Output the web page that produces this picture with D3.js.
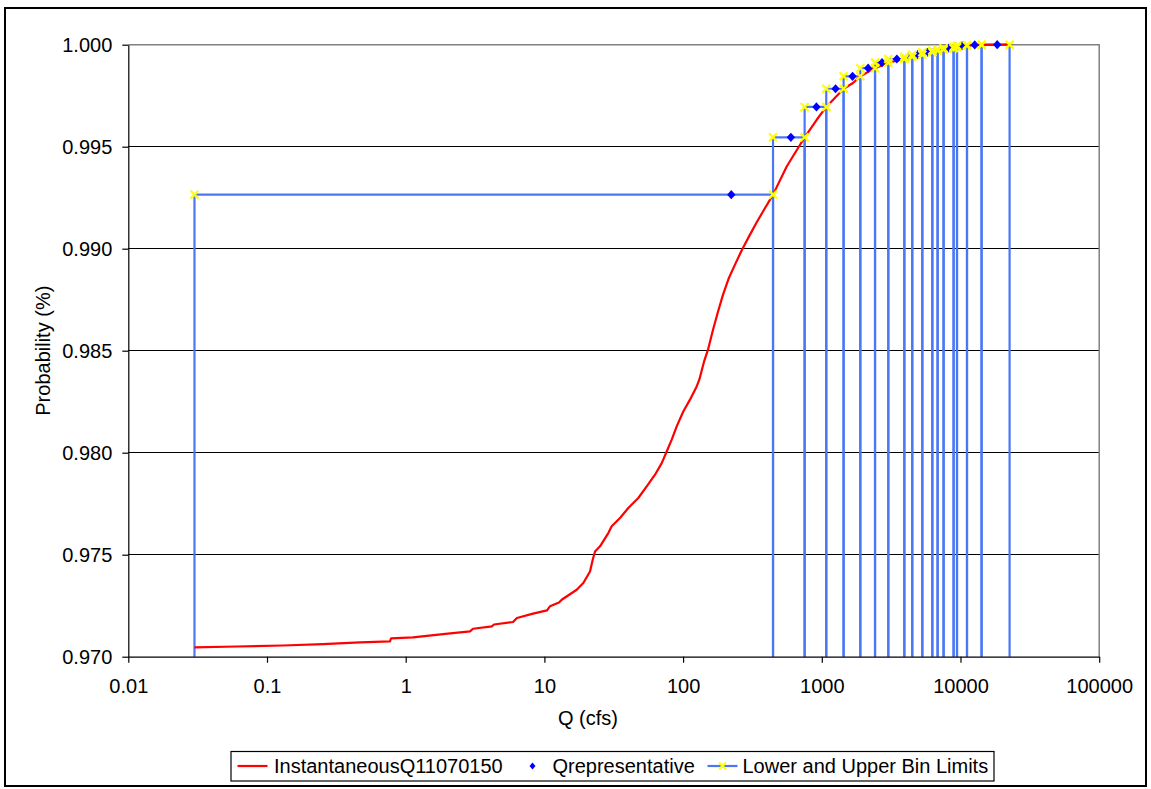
<!DOCTYPE html>
<html>
<head>
<meta charset="utf-8">
<script src="https://cdn.jsdelivr.net/npm/d3@7"></script>
<style>
  html, body { margin: 0; padding: 0; background: #fff; }
  svg text { font-family: "Liberation Sans", Arial, sans-serif; fill: #000; }
</style>
</head>
<body>
<svg id="chart" width="1151" height="789"></svg>
<script>
// Cumulative probability of instantaneous discharge (Q, cfs)
const curveQ = [0.03, 0.0605, 0.1304, 0.2533, 0.468, 0.770, 0.785, 1.129, 1.858, 2.908, 3.055, 4.19, 4.33,
  5.94, 6.34, 8.28, 10.44, 10.97, 12.74, 13.33, 17.10, 19.08, 21.33, 22.30, 23.17, 25.18, 28.89, 30.56,
  35.09, 40.26, 47.54, 54.66, 62.72, 70.12, 76.16, 82.77, 89.93, 100.3, 112.1, 125.3, 130.9, 141.5, 151.2,
  164.3, 178.5, 194.0, 214.2, 236.7, 265.9, 303.6, 341.0, 383.1, 445, 558.4, 684.6, 752, 918.8, 1077,
  1436, 1679, 1895, 2420, 3016, 3936, 4490, 5306, 6266, 6838, 7553, 8918, 9438, 11140, 14190, 22590];
const curveP = [0.97046, 0.97050, 0.97055, 0.97062, 0.97070, 0.97075, 0.97090, 0.97095, 0.97111, 0.97124,
  0.97137, 0.97149, 0.97158, 0.97170, 0.97190, 0.97211, 0.97227, 0.97247, 0.97266, 0.97279, 0.97328,
  0.97361, 0.97418, 0.97475, 0.97516, 0.97541, 0.97606, 0.97639, 0.97680, 0.97729, 0.97778, 0.97835,
  0.97892, 0.97949, 0.98006, 0.98064, 0.98129, 0.98202, 0.98260, 0.98325, 0.98358, 0.98446, 0.98505,
  0.98603, 0.98691, 0.98775, 0.98858, 0.98922, 0.98995, 0.99069, 0.99132, 0.99191, 0.99265, 0.99403,
  0.99501, 0.99546, 0.99632, 0.99695, 0.99784, 0.99812, 0.99845, 0.99885, 0.99912, 0.99930, 0.99941,
  0.99951, 0.99963, 0.99971, 0.99975, 0.99983, 0.99988, 0.99995, 0.99999, 1.00000];

// Bin edges (lower/upper limits) and the probability level of each bin
const binEdges = [0.03, 445, 752, 1077, 1436, 1895, 2420, 3016, 3936, 4490, 5306, 6266, 6838, 7553,
  8918, 9438, 11140, 14190, 22590];
const binP = [0.99265, 0.99546, 0.99695, 0.99784, 0.99845, 0.99885, 0.99912, 0.99930, 0.99941, 0.99951,
  0.99963, 0.99971, 0.99975, 0.99983, 0.99988, 0.99995, 0.99999, 1.00000];

// Representative discharge of each bin
const qRep = [222.5, 598.5, 914.5, 1256.5, 1665.5, 2157.5, 2718, 3476, 4213, 4898, 5786, 6552, 7195.5,
  8235.5, 9178, 10289, 12665, 18390];

const xTicks = [0.01, 0.1, 1, 10, 100, 1000, 10000, 100000];
const xTickLabels = ["0.01", "0.1", "1", "10", "100", "1000", "10000", "100000"];
const yTicks = [0.970, 0.975, 0.980, 0.985, 0.990, 0.995, 1.000];

const seriesNames = ["InstantaneousQ11070150", "Qrepresentative", "Lower and Upper Bin Limits"];

const svg = d3.select("#chart");
const L = 128.3, R = 1099.2, T = 44.7, B = 656.7;

const x = d3.scaleLog().domain([0.01, 100000]).range([L, R]);
const y = d3.scaleLinear().domain([0.970, 1.000]).range([B, T]);

// Outer chart border
svg.append("rect").attr("x", 5).attr("y", 8).attr("width", 1141).attr("height", 778)
  .attr("fill", "#fff").attr("stroke", "#000").attr("stroke-width", 2);

// Horizontal gridlines
svg.append("g").selectAll("line").data(yTicks.filter(v => v > 0.9701 && v < 0.9999)).join("line")
  .attr("x1", L).attr("x2", R).attr("y1", d => y(d)).attr("y2", d => y(d))
  .attr("stroke", "#000").attr("stroke-width", 1).attr("shape-rendering", "crispEdges");

// Plot area frame (top and right)
svg.append("path").attr("d", `M${L},${y(1)}H${R}V${B}`).attr("fill", "none")
  .attr("stroke", "#808080").attr("stroke-width", 1.5);

const plot = svg.append("g");

// Bin limit steps: vertical at each edge, horizontal at the bin level
const binGroup = plot.append("g");
binP.forEach((p, i) => {
  const x0 = x(binEdges[i]), x1 = x(binEdges[i + 1]);
  binGroup.append("path")
    .attr("d", `M${x0},${y(0.97)}V${y(p)}H${x1}V${y(0.97)}`)
    .attr("fill", "none").attr("stroke", "#4a78f5").attr("stroke-width", 2.2);
});

// Cumulative distribution curve
const line = d3.line().x((d, i) => x(curveQ[i])).y(d => y(d));
plot.append("path").datum(curveP).attr("d", line)
  .attr("fill", "none").attr("stroke", "#ff0000").attr("stroke-width", 2.2)
  .attr("stroke-linejoin", "round");

// Representative points (diamonds)
function diamondPath(w, h) { return `M0,${-h}L${w},0L0,${h}L${-w},0Z`; }
plot.append("g").selectAll("path").data(qRep).join("path")
  .attr("d", diamondPath(4.2, 4.6))
  .attr("transform", (d, i) => `translate(${x(d)},${y(binP[i])})`)
  .attr("fill", "#0000ff");

// Bin limit markers (yellow x) at both ends of each step
function xMark(g, cx, cy, s) {
  g.append("path").attr("d", `M${cx - s},${cy - s}L${cx + s},${cy + s}M${cx - s},${cy + s}L${cx + s},${cy - s}`)
    .attr("stroke", "#ffff00").attr("stroke-width", 2.2).attr("fill", "none");
}
const markG = plot.append("g");
binP.forEach((p, i) => {
  xMark(markG, x(binEdges[i]), y(p), 4);
  xMark(markG, x(binEdges[i + 1]), y(p), 4);
});

// Axes
const xAxis = d3.axisBottom(x).tickValues(xTicks).tickFormat((d, i) => xTickLabels[i])
  .tickSizeInner(6).tickSizeOuter(0).tickPadding(16);
const gx = svg.append("g").attr("transform", `translate(0,${B})`).call(xAxis);
gx.selectAll("text").attr("font-size", 20).attr("font-family", "Liberation Sans, Arial, sans-serif");

const yAxis = d3.axisLeft(y).tickValues(yTicks).tickFormat(d3.format(".3f"))
  .tickSizeInner(6).tickSizeOuter(0).tickPadding(10);
const gy = svg.append("g").attr("transform", `translate(${L},0)`).call(yAxis);
gy.selectAll("text").attr("font-size", 20).attr("font-family", "Liberation Sans, Arial, sans-serif");
[gx, gy].forEach(g => {
  g.select(".domain").attr("stroke", "#000").attr("stroke-width", 1.2);
  g.selectAll(".tick line").attr("stroke", "#000").attr("stroke-width", 1.2);
});

// Axis titles
svg.append("text").attr("x", 588).attr("y", 725).attr("text-anchor", "middle")
  .attr("font-size", 20).text("Q (cfs)");
svg.append("text").attr("transform", `translate(50,${(T + B) / 2}) rotate(-90)`)
  .attr("text-anchor", "middle").attr("font-size", 20).text("Probability (%)");

// Legend
const lg = svg.append("g");
lg.append("rect").attr("x", 231).attr("y", 751.5).attr("width", 763).attr("height", 29.5)
  .attr("fill", "#fff").attr("stroke", "#000").attr("stroke-width", 1.2);
const ly = 766;
lg.append("line").attr("x1", 237.5).attr("x2", 267.5).attr("y1", ly).attr("y2", ly)
  .attr("stroke", "#ff0000").attr("stroke-width", 2.2);
lg.append("text").attr("x", 274).attr("y", ly + 7).attr("font-size", 20).text(seriesNames[0]);
lg.append("path").attr("d", diamondPath(3, 3.5))
  .attr("transform", `translate(532.5,${ly})`).attr("fill", "#0000ff");
lg.append("text").attr("x", 552.5).attr("y", ly + 7).attr("font-size", 20).text(seriesNames[1]);
lg.append("line").attr("x1", 707.5).attr("x2", 737.5).attr("y1", ly).attr("y2", ly)
  .attr("stroke", "#4a78f5").attr("stroke-width", 2.2);
xMark(lg, 722.5, ly, 3.5);
lg.append("text").attr("x", 742.5).attr("y", ly + 7).attr("font-size", 20).text(seriesNames[2]);
</script>
</body>
</html>
